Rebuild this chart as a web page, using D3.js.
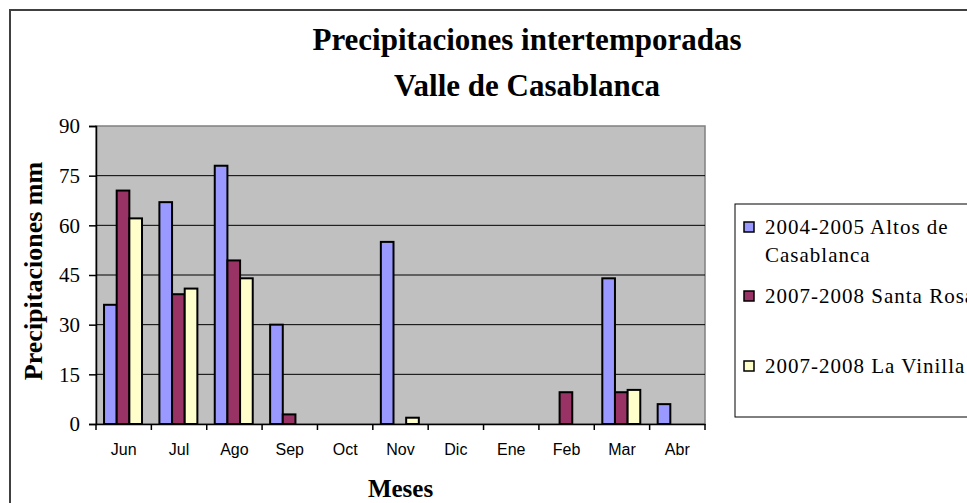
<!DOCTYPE html>
<html>
<head>
<meta charset="utf-8">
<script src="https://cdn.jsdelivr.net/npm/d3@7"></script>
<style>
  body { margin: 0; background: #fff; }
  svg { display: block; }
</style>
</head>
<body>
<svg></svg>
<script>
const width = 967;
const height = 503;

// data
const months = ['Jun', 'Jul', 'Ago', 'Sep', 'Oct', 'Nov', 'Dic', 'Ene', 'Feb', 'Mar', 'Abr'];
const seriesNames = ['2004-2005 Altos de Casablanca', '2007-2008 Santa Rosa', '2007-2008 La Vinilla'];
const altos = [36, 67, 78, 30, 0, 55, 0, 0, 0, 44, 6];
const santaRosa = [70.5, 39.2, 49.4, 2.9, 0, 0, 0, 0, 9.6, 9.6, 0];
const laVinilla = [62.1, 40.9, 44, 0, 0, 1.9, 0, 0, 0, 10.3, 0];
const yTicks = [0, 15, 30, 45, 60, 75, 90];
const colors = ['#9999FF', '#993366', '#FFFFCC'];

const plotLeft = 96;
const plotRight = 705;
const plotTop = 126;
const plotBottom = 424;

const svg = d3.select('svg')
    .attr('width', width)
    .attr('height', height);

// outer frame
svg.append('rect')
    .attr('x', 10)
    .attr('y', 10)
    .attr('width', 1000)
    .attr('height', 600)
    .attr('fill', '#fff')
    .attr('stroke', '#404040')
    .attr('stroke-width', 2);

const x = d3.scaleBand()
    .domain(months)
    .range([plotLeft, plotRight]);

const bw = x.bandwidth();
const xs = d3.scaleBand()
    .domain(d3.range(seriesNames.length))
    .range([bw * 0.145, bw * 0.145 + bw * 0.686]);

const y = d3.scaleLinear()
    .domain([0, 90])
    .range([plotBottom, plotTop]);

// plot area
svg.append('rect')
    .attr('x', plotLeft)
    .attr('y', plotTop)
    .attr('width', plotRight - plotLeft)
    .attr('height', plotBottom - plotTop)
    .attr('fill', '#C0C0C0')
    .attr('stroke', '#808080')
    .attr('stroke-width', 1.5);

// gridlines
svg.append('g')
  .selectAll('line')
  .data(yTicks.filter(d => d > 0 && d < 90))
  .join('line')
    .attr('x1', plotLeft)
    .attr('x2', plotRight)
    .attr('y1', d => y(d))
    .attr('y2', d => y(d))
    .attr('stroke', '#000')
    .attr('stroke-width', 1);

// bars
const allSeries = [altos, santaRosa, laVinilla];
allSeries.forEach((vals, si) => {
  svg.append('g')
    .selectAll('rect')
    .data(vals.map((v, i) => ({month: months[i], v})).filter(d => d.v > 0))
    .join('rect')
      .attr('x', d => x(d.month) + xs(si))
      .attr('y', d => y(d.v))
      .attr('width', xs.bandwidth())
      .attr('height', d => y(0) - y(d.v))
      .attr('fill', colors[si])
      .attr('stroke', '#000')
      .attr('stroke-width', 2);
});

// y axis
const yAxis = svg.append('g')
    .attr('transform', `translate(${plotLeft},0)`)
    .call(d3.axisLeft(y).tickValues(yTicks).tickSize(7).tickPadding(9));
yAxis.select('.domain').attr('stroke', '#000').attr('stroke-width', 1.5);
yAxis.selectAll('.tick line').attr('stroke', '#000').attr('stroke-width', 1.5);
yAxis.selectAll('.tick text')
    .attr('font-family', '"Liberation Serif", "Times New Roman", serif')
    .attr('font-size', 21)
    .attr('fill', '#000');

// x axis
const xAxis = svg.append('g')
    .attr('transform', `translate(0,${plotBottom})`)
    .call(d3.axisBottom(x).tickSize(0).tickPadding(20));
xAxis.select('.domain').attr('stroke', '#000').attr('stroke-width', 1.5);
xAxis.selectAll('.tick text')
    .attr('font-family', '"Liberation Sans", Arial, sans-serif')
    .attr('font-size', 16)
    .attr('fill', '#000');
svg.append('g')
  .selectAll('line')
  .data(months.concat(['end']))
  .join('line')
    .attr('x1', (d, i) => plotLeft + i * bw)
    .attr('x2', (d, i) => plotLeft + i * bw)
    .attr('y1', plotBottom)
    .attr('y2', plotBottom + 6)
    .attr('stroke', '#000')
    .attr('stroke-width', 1.5);

// titles
const title = svg.append('text')
    .attr('x', 527)
    .attr('font-family', '"Liberation Serif", "Times New Roman", serif')
    .attr('font-weight', 'bold')
    .attr('font-size', 31)
    .attr('text-anchor', 'middle');
title.append('tspan').attr('x', 527).attr('y', 50).text('Precipitaciones intertemporadas');
title.append('tspan').attr('x', 527).attr('y', 96).text('Valle de Casablanca');

svg.append('text')
    .attr('x', (plotLeft + plotRight) / 2)
    .attr('y', 497)
    .attr('text-anchor', 'middle')
    .attr('font-family', '"Liberation Serif", "Times New Roman", serif')
    .attr('font-weight', 'bold')
    .attr('font-size', 25)
    .text('Meses');

svg.append('text')
    .attr('transform', `translate(42,${(plotTop + plotBottom) / 2 - 4}) rotate(-90)`)
    .attr('text-anchor', 'middle')
    .attr('font-family', '"Liberation Serif", "Times New Roman", serif')
    .attr('font-weight', 'bold')
    .attr('font-size', 26)
    .text('Precipitaciones mm');

// legend
svg.append('rect')
    .attr('x', 735)
    .attr('y', 204)
    .attr('width', 300)
    .attr('height', 213)
    .attr('fill', '#fff')
    .attr('stroke', '#000')
    .attr('stroke-width', 1);

const legendLines = [['2004-2005 Altos de', 'Casablanca'], ['2007-2008 Santa Rosa'], ['2007-2008 La Vinilla']];
const legendY = [234, 303, 373];
const legend = svg.append('g')
  .selectAll('g')
  .data(seriesNames)
  .join('g')
    .attr('transform', (d, i) => `translate(744,${legendY[i]})`);
legend.append('rect')
    .attr('x', 0)
    .attr('y', -12)
    .attr('width', 10)
    .attr('height', 10)
    .attr('fill', (d, i) => colors[i])
    .attr('stroke', '#000')
    .attr('stroke-width', 1.5);
legend.append('text')
    .attr('font-family', '"Liberation Serif", "Times New Roman", serif')
    .attr('font-size', 21)
    .attr('letter-spacing', 1)
    .attr('fill', '#000')
    .each(function(d, i) {
      d3.select(this).selectAll('tspan')
        .data(legendLines[i])
        .join('tspan')
          .attr('x', 21)
          .attr('dy', (t, j) => j === 0 ? 0 : 28)
          .text(t => t);
    });
</script>
</body>
</html>
